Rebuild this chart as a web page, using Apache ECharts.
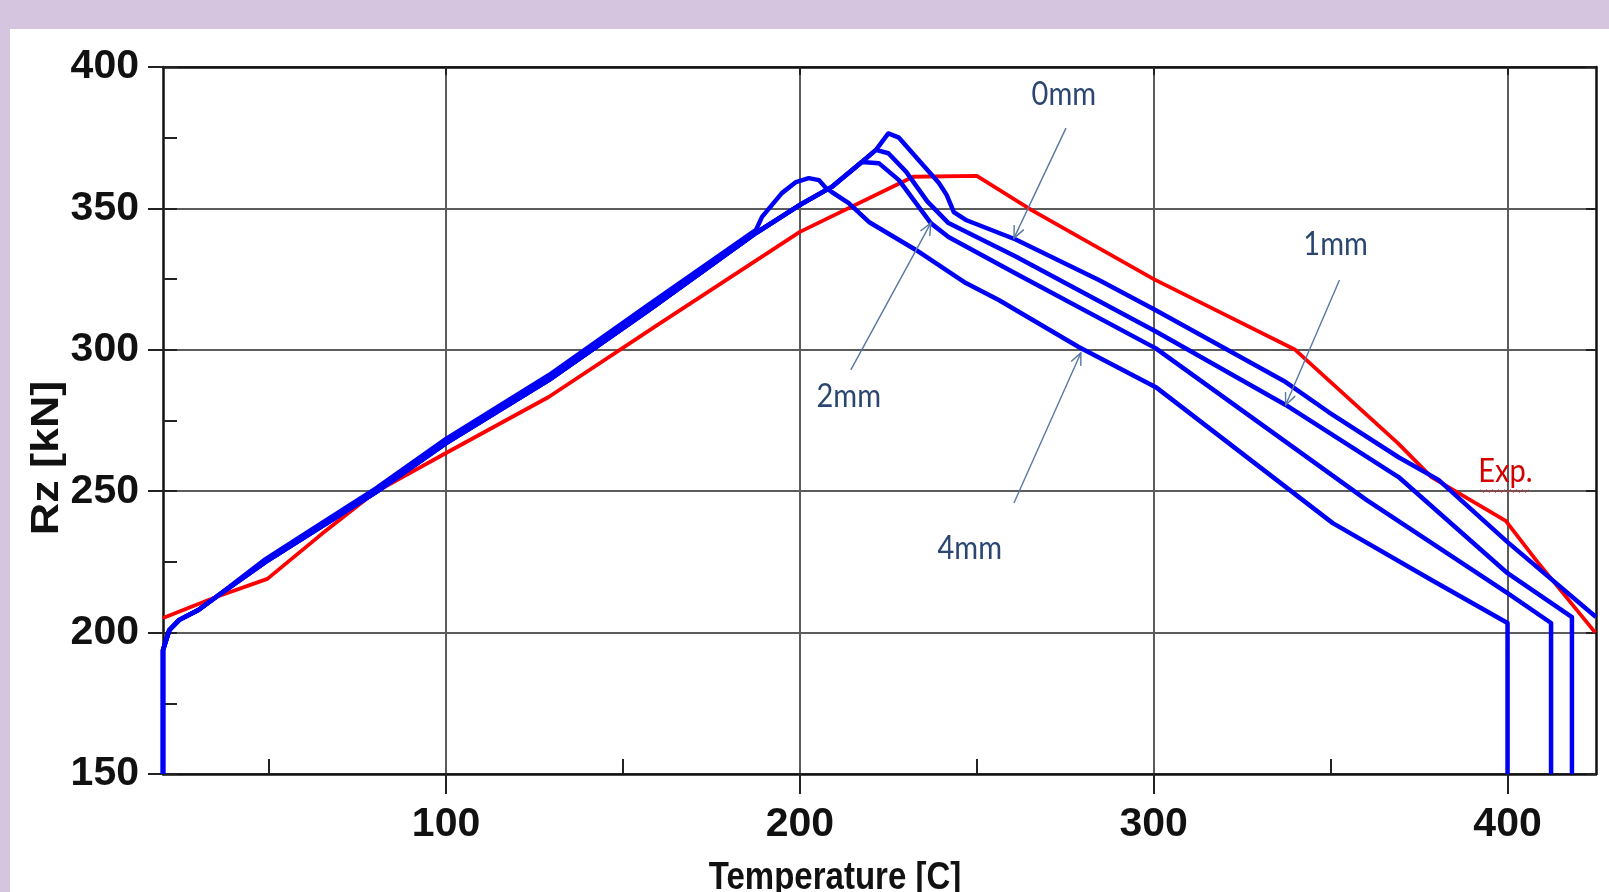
<!DOCTYPE html>
<html>
<head>
<meta charset="utf-8">
<script src="https://cdn.jsdelivr.net/npm/echarts@6.0.0/dist/echarts.min.js"></script>
<style>
  html, body { margin: 0; padding: 0; width: 1609px; height: 892px; overflow: hidden; background: #D6C5DF; }
  #chart { position: absolute; left: 10px; top: 29px; width: 1599px; height: 863px; background: #ffffff; }
</style>
</head>
<body>
<div id="chart"></div>
<script>
// Reaction force Rz versus temperature: test record (red) and four simulated gap sizes (blue).

// Experiment, [temperature C, Rz kN]
const expCurve = [
  [20, 205.2], [35, 212.6], [49.5, 219], [65, 235], [80, 249.7], [100, 263.5],
  [129, 283.3], [160, 309], [200, 341.7], [232, 361.2], [250, 361.5], [265.5, 349.4],
  [300, 325], [340, 300], [369, 267], [378.5, 255], [399.5, 239.5], [408, 225.7], [424.8, 200]
];

// Heating branch shared by the 0, 1 and 2 mm runs
const riseShared = [
  [20, 150], [20, 193.8], [21.8, 200.9], [24.6, 204.5], [30, 208], [35, 212.6],
  [49, 225], [63.3, 236.3], [80.2, 249.7], [100, 267], [129, 289.3], [157.3, 314],
  [187.6, 341.3], [199.7, 351], [209, 357.6], [217.5, 366.4]
];

// Heating branch of the 4 mm run
const rise4mm = [
  [20, 150], [20, 193.8], [21.8, 200.9], [24.6, 204.5], [30, 208], [35, 212.6],
  [49, 226], [63.3, 237.5], [80.2, 251], [100, 268.5], [129, 291], [157.3, 316], [187.6, 342.4]
];

// Peak and cooling branches
const tail0mm = [
  [221.5, 370.7], [225, 376.5], [228, 375], [233.6, 367], [239.3, 359], [241.5, 354.7],
  [243.5, 348.7], [246.9, 345.9], [261, 339], [284.5, 324.7], [300.6, 314], [337.3, 288.6],
  [349.4, 278], [369.2, 262], [380.5, 254], [400, 232], [425, 205.5]
];
const tail1mm = [
  [221.5, 370.7], [225, 369.5], [230, 363], [236, 352.5], [242, 344.8], [261, 333],
  [300.6, 306.5], [337.3, 280.5], [369.2, 255], [400, 221], [418.2, 205.5], [418.2, 150]
];
const tail2mm = [
  [222.3, 366], [228, 360], [237, 344.8], [242, 339.9], [261, 327], [300.6, 300.5],
  [360, 247], [400, 214], [412.3, 203.4], [412.3, 150]
];
const tail4mm = [
  [189.3, 347], [194.9, 355.4], [198.9, 359.3], [202.5, 360.7], [205.4, 360], [207.3, 357.3],
  [209, 355.8], [213.8, 351.9], [219.5, 345.2], [232.8, 335.3], [246.9, 323.6], [256.2, 317.6],
  [278.8, 301], [300.6, 286.8], [350.6, 238.7], [378.5, 218.6], [400, 203.4], [400, 150]
];

// Axis ticks
const xLabelTicks = [100, 200, 300, 400];
const xMinorTicks = [50, 150, 250, 350];

// Callout texts with label centre, arrow tail and arrow tip in data units
const callouts = [
  { text: '0mm', label: [274.6, 390.5], tail: [275.2, 378.4], tip: [260.5, 339.5] },
  { text: '1mm', label: [351.4, 337.4], tail: [352.5, 324.7], tip: [337.3, 280.5] },
  { text: '2mm', label: [213.8, 283.7], tail: [214.4, 292.9], tip: [237.0, 344.8] },
  { text: '4mm', label: [248.0, 229.9], tail: [260.5, 245.8], tip: [279.4, 298.9] }
];
const expLabel = { text: 'Exp.', label: [399.4, 257.2] };

const chart = echarts.init(document.getElementById('chart'), null, { renderer: 'canvas' });

const tickFont = "'Liberation Sans Narrow', 'Arial Narrow', 'Liberation Sans', Arial, sans-serif";
const frame = { color: '#111', width: 2.5 };
const gridLine = { color: '#5c5c5c', width: 2 };
const blue = '#0000F5';

function curve(name, pts, color, width) {
  return {
    name: name, type: 'line', data: pts, showSymbol: false, symbol: 'none',
    xAxisIndex: 0, yAxisIndex: 0, silent: true,
    lineStyle: { color: color, width: width, join: 'round' }, z: 5
  };
}

chart.setOption({
  animation: false,
  grid: { left: 153, right: 13, top: 38, bottom: 118, containLabel: false },
  xAxis: [
    {
      type: 'value', position: 'bottom', min: 20, max: 425,
      axisLine: { show: true, onZero: false, lineStyle: frame },
      axisTick: { show: true, customValues: xLabelTicks, inside: false, length: 20, lineStyle: { color: '#222', width: 2 } },
      axisLabel: { customValues: xLabelTicks, color: '#111', fontSize: 41, fontWeight: 'bold', fontFamily: tickFont, margin: 30 },
      splitLine: { show: true, lineStyle: gridLine }
    },
    {
      type: 'value', position: 'bottom', min: 20, max: 425,
      axisLine: { show: false, onZero: false },
      axisTick: { show: true, customValues: xMinorTicks, inside: true, length: 15, lineStyle: { color: '#222', width: 2 } },
      axisLabel: { show: false }, splitLine: { show: false }
    },
    {
      type: 'value', position: 'top', min: 20, max: 425,
      axisLine: { show: true, onZero: false, lineStyle: frame },
      axisTick: { show: true, customValues: xLabelTicks, inside: true, length: 8, lineStyle: { color: '#222', width: 2 } },
      axisLabel: { show: false }, splitLine: { show: false }
    }
  ],
  yAxis: [
    {
      type: 'value', position: 'left', min: 150, max: 400, interval: 50,
      axisLine: { show: true, onZero: false, lineStyle: frame },
      axisTick: { show: true, inside: false, length: 15, lineStyle: { color: '#222', width: 2 } },
      axisLabel: { color: '#111', fontSize: 41, fontWeight: 'bold', fontFamily: tickFont, margin: 24 },
      splitLine: { show: true, lineStyle: gridLine }
    },
    {
      type: 'value', position: 'left', min: 150, max: 400, interval: 50,
      axisLine: { show: false, onZero: false },
      axisTick: { show: true, inside: true, length: 14, lineStyle: { color: '#222', width: 2 } },
      minorTick: { show: true, splitNumber: 2, length: 14, lineStyle: { color: '#222', width: 2 } },
      axisLabel: { show: false }, splitLine: { show: false }
    },
    {
      type: 'value', position: 'right', min: 150, max: 400, interval: 50,
      axisLine: { show: true, onZero: false, lineStyle: frame },
      axisTick: { show: true, inside: true, length: 10, lineStyle: { color: '#222', width: 2 } },
      axisLabel: { show: false }, splitLine: { show: false }
    }
  ],
  series: [
    curve('Exp.', expCurve, '#FF0000', 3.8),
    curve('4mm', rise4mm.concat(tail4mm), blue, 4.5),
    curve('2mm', riseShared.concat(tail2mm), blue, 4.5),
    curve('1mm', riseShared.concat(tail1mm), blue, 4.5),
    curve('0mm', riseShared.concat(tail0mm), blue, 4.5)
  ]
});

// Axis titles, callouts and arrows placed from data coordinates
function px(p) { return chart.convertToPixel({ xAxisIndex: 0, yAxisIndex: 0 }, p); }

const graphics = [];
graphics.push({
  type: 'text', x: 38, y: 429, rotation: Math.PI / 2, scaleX: 1.18,
  style: { text: 'Rz [kN]', fontSize: 38, fontWeight: 'bold', fontFamily: "'Liberation Sans', Arial, sans-serif",
           fill: '#111', align: 'center', verticalAlign: 'middle', textAlign: 'center', textVerticalAlign: 'middle' }
});
graphics.push({
  type: 'text', x: 825, y: 849, scaleY: 1.2,
  style: { text: 'Temperature [C]', fontSize: 33, fontWeight: 'bold', fontFamily: "'Liberation Sans', Arial, sans-serif",
           fill: '#111', align: 'center', verticalAlign: 'middle', textAlign: 'center', textVerticalAlign: 'middle' }
});

const arrowColor = '#5877A2';
callouts.forEach(function (c) {
  const a = px(c.tail), b = px(c.tip);
  const ang = Math.atan2(b[1] - a[1], b[0] - a[0]);
  const L = 13, w = 0.42;
  const h1 = [b[0] - L * Math.cos(ang - w), b[1] - L * Math.sin(ang - w)];
  const h2 = [b[0] - L * Math.cos(ang + w), b[1] - L * Math.sin(ang + w)];
  graphics.push({ type: 'line', silent: true, z: 10,
    shape: { x1: a[0], y1: a[1], x2: b[0], y2: b[1] }, style: { stroke: arrowColor, lineWidth: 1.4 } });
  graphics.push({ type: 'polyline', silent: true, z: 10,
    shape: { points: [h1, b, h2] }, style: { stroke: arrowColor, lineWidth: 1.4, fill: null } });
  const t = px(c.label);
  graphics.push({ type: 'text', x: t[0], y: t[1], scaleY: 1.15, z: 10,
    style: { text: c.text, fontSize: 29, fontFamily: 'Lato, "Open Sans", sans-serif', fill: '#2A4670',
             align: 'center', verticalAlign: 'middle', textAlign: 'center', textVerticalAlign: 'middle' } });
});

// "Exp." tag with its wavy underline
const e = px(expLabel.label);
graphics.push({ type: 'text', x: e[0], y: e[1], scaleY: 1.15, z: 10,
  style: { text: expLabel.text, fontSize: 29, fontFamily: 'Lato, "Open Sans", sans-serif', fill: '#D40000',
           align: 'center', verticalAlign: 'middle', textAlign: 'center', textVerticalAlign: 'middle' } });
const wave = [];
for (let k = 0; k <= 16; k++) {
  wave.push([e[0] - 25 + k * 3, e[1] + 20 + (k % 2 ? 1.5 : -1.0)]);
}
graphics.push({ type: 'polyline', silent: true, z: 10, shape: { points: wave },
  style: { stroke: '#C03030', lineWidth: 1, fill: null } });

chart.setOption({ graphic: { elements: graphics } });
</script>
</body>
</html>
